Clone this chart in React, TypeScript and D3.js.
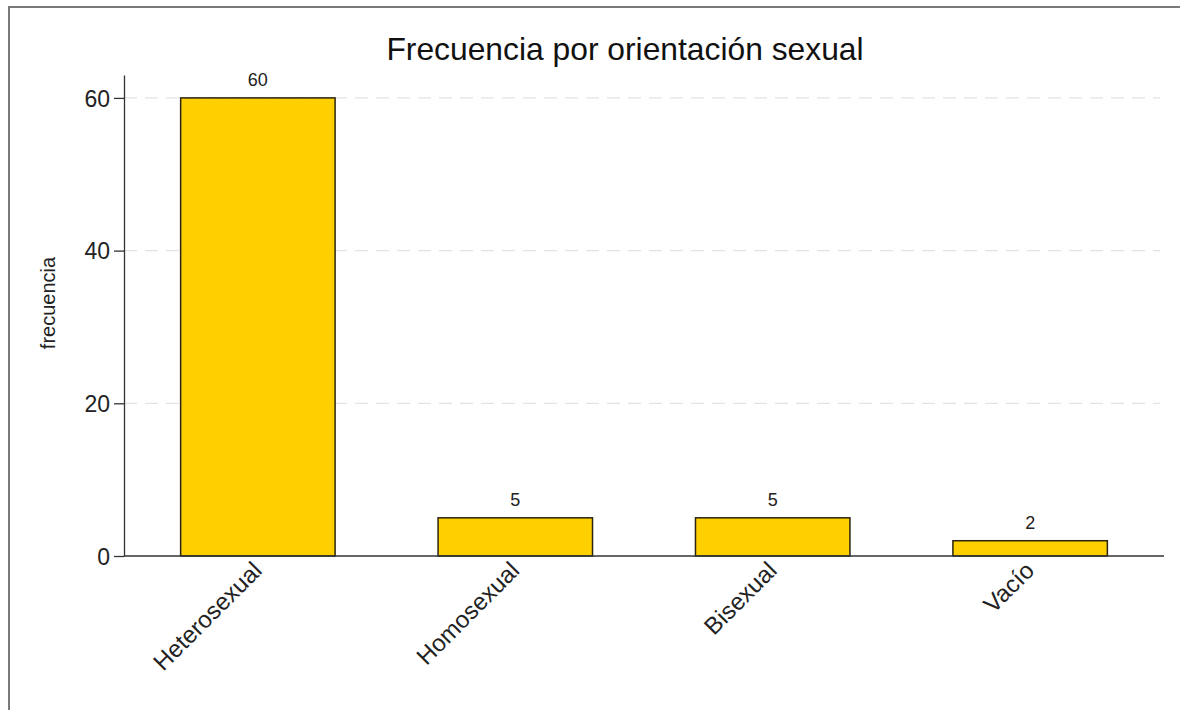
import { useEffect, useRef } from 'react';
import * as d3 from 'd3';

const categories = ['Heterosexual', 'Homosexual', 'Bisexual', 'Vacío'];
const counts = [60, 5, 5, 2];
const yTicks = [0, 20, 40, 60];

const title = 'Frecuencia por orientación sexual';
const yLabel = 'frecuencia';

const W = 1180;
const H = 710;
const FONT = '"Liberation Sans", Arial, Helvetica, sans-serif';

export default function App() {
  const svgRef = useRef<SVGSVGElement>(null);

  useEffect(() => {
    if (!svgRef.current) return;
    const svg = d3.select(svgRef.current);
    svg.selectAll('*').remove();

    const left = 124;
    const right = 1164;
    const top = 75;
    const bottom = 556;

    // outer frame (only top and left edges show in the picture)
    svg
      .append('rect')
      .attr('x', 9)
      .attr('y', 7)
      .attr('width', W + 20)
      .attr('height', H + 20)
      .attr('fill', 'none')
      .attr('stroke', '#7a7a7a')
      .attr('stroke-width', 2);

    const x = d3
      .scaleBand<string>()
      .domain(categories)
      .range([left, right])
      .paddingInner(0.4)
      .paddingOuter(0.22);

    const y = d3.scaleLinear().domain([0, 63]).range([bottom, top]);

    // dashed grid
    svg
      .append('g')
      .selectAll('line')
      .data(yTicks.filter((t) => t > 0))
      .join('line')
      .attr('x1', left)
      .attr('x2', right - 4)
      .attr('y1', (d) => y(d))
      .attr('y2', (d) => y(d))
      .attr('stroke', '#e3e3e3')
      .attr('stroke-width', 1.2)
      .attr('stroke-dasharray', '13,8');

    // bars
    const data = categories.map((c, i) => ({ c, v: counts[i] }));
    svg
      .append('g')
      .selectAll('rect')
      .data(data)
      .join('rect')
      .attr('x', (d) => x(d.c)!)
      .attr('y', (d) => y(d.v))
      .attr('width', x.bandwidth())
      .attr('height', (d) => y(0) - y(d.v))
      .attr('fill', '#ffd000')
      .attr('stroke', '#2a2410')
      .attr('stroke-width', 1.5);

    // value labels
    svg
      .append('g')
      .selectAll('text')
      .data(data)
      .join('text')
      .attr('x', (d) => x(d.c)! + x.bandwidth() / 2)
      .attr('y', (d) => y(d.v) - 12)
      .attr('text-anchor', 'middle')
      .attr('font-family', FONT)
      .attr('font-size', 18)
      .attr('fill', '#222')
      .text((d) => d.v);

    // y axis
    const yAxis = svg
      .append('g')
      .attr('transform', `translate(${left},0)`)
      .call(d3.axisLeft(y).tickValues(yTicks).tickSize(10).tickPadding(4).tickSizeOuter(0));
    yAxis.select('.domain').attr('stroke', '#333').attr('stroke-width', 1.3);
    yAxis.selectAll('.tick line').attr('stroke', '#333').attr('stroke-width', 1.3);
    yAxis
      .selectAll('.tick text')
      .attr('font-family', FONT)
      .attr('font-size', 23)
      .attr('fill', '#222')
      .attr('dy', '0.36em');

    // x axis line
    svg
      .append('line')
      .attr('x1', left)
      .attr('x2', right)
      .attr('y1', bottom)
      .attr('y2', bottom)
      .attr('stroke', '#333')
      .attr('stroke-width', 1.3);

    // x labels
    svg
      .append('g')
      .selectAll('text')
      .data(categories)
      .join('text')
      .attr('transform', (d) => `translate(${x(d)! + x.bandwidth() / 2 + 5.5},${bottom + 16}) rotate(-45)`)
      .attr('text-anchor', 'end')
      .attr('font-family', FONT)
      .attr('font-size', 24)
      .attr('fill', '#222')
      .text((d) => d);

    // y label
    svg
      .append('text')
      .attr('transform', `translate(55,303) rotate(-90)`)
      .attr('text-anchor', 'middle')
      .attr('font-family', FONT)
      .attr('font-size', 20)
      .attr('fill', '#222')
      .text(yLabel);

    // title
    svg
      .append('text')
      .attr('x', 625)
      .attr('y', 60)
      .attr('text-anchor', 'middle')
      .attr('font-family', FONT)
      .attr('font-size', 31.8)
      .attr('fill', '#111')
      .text(title);
  }, []);

  return (
    <svg
      ref={svgRef}
      width={W}
      height={H}
      style={{ position: 'absolute', left: 0, top: 0, background: '#fff' }}
    />
  );
}
